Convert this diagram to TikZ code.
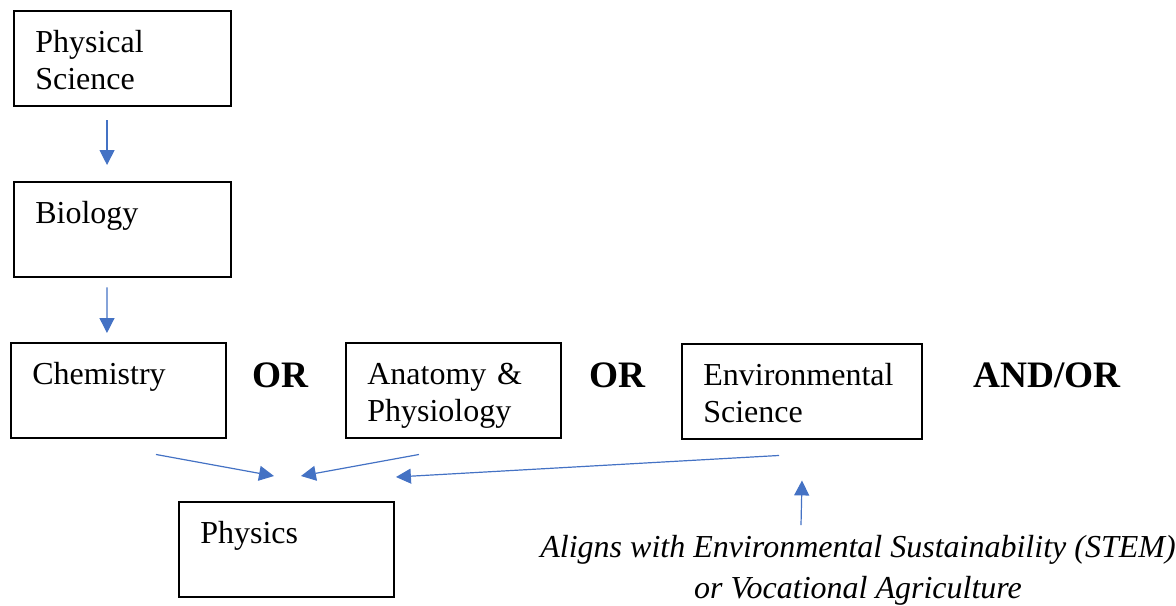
\documentclass[tikz,border=0pt]{standalone}
\usepackage{fontspec}
\setmainfont{Liberation Serif}
\usetikzlibrary{arrows.meta}
\definecolor{arrblue}{HTML}{4472C4}

\begin{document}
\begin{tikzpicture}[x=0.375pt, y=-0.375pt,
    box/.style={draw, line width=0.75pt, anchor=north west, align=left,
      inner xsep=8pt, inner ysep=0pt, text height=15.4pt, text depth=20.4pt,
      font=\fontsize{12}{13.9}\selectfont},
    arr/.style={draw=arrblue, line width=0.45pt, -{Triangle[length=5.6pt, width=5.6pt]}},
    orlbl/.style={font=\fontsize{14}{16}\selectfont\bfseries, inner sep=0pt},
    note/.style={font=\fontsize{12}{15.2}\selectfont\itshape, align=center, anchor=north, inner sep=0pt}]
    \useasboundingbox (0, 0) rectangle (1176, 605);

    \node[box, text width=65.4pt] (physci) at (13, 10) {Physical\\Science};
    \node[box, text width=65.4pt] (bio) at (13, 181) {Biology};
    \node[box, text width=64.6pt] (chem) at (10, 342) {Chemistry};
    \node[box, text width=64.6pt] (anat) at (345, 342) {Anatomy \&\\Physiology};
    \node[box, text width=74pt] (env) at (681, 343) {Environmental\\Science};
    \node[box, text width=64.6pt] (phys) at (178, 501) {Physics};

    \node[orlbl] (or1) at (280, 375) {OR};
    \node[orlbl] (or2) at (617, 375) {OR};
    \node[orlbl] (andor) at (1047, 375) {AND/OR};

    \node[note] (align) at (858, 535) {Aligns with Environmental Sustainability (STEM)\\or Vocational Agriculture};

    \draw[arr] ([shift={(-15.5, 13)}]physci.south)--([shift={(-15.5, -16)}]bio.north);
    \draw[arr] ([shift={(-15.5, 9)}]bio.south)--([shift={(-11.5, -9)}]chem.north);

    \draw[arr] ([shift={(37.5, 15)}]chem.south)--([shift={(-12.5, -25)}]phys.north);
    \draw[arr] ([shift={(-34.5, 15)}]anat.south)--([shift={(14.5, -25)}]phys.north);
    \draw[arr] ([shift={(-23, 15)}]env.south)--([shift={(109.5, -24)}]phys.north);
    \draw[arr] ([shift={(-57, -10)}]align.north)--([shift={(0, 40)}]env.south);
\end{tikzpicture}
\end{document}
